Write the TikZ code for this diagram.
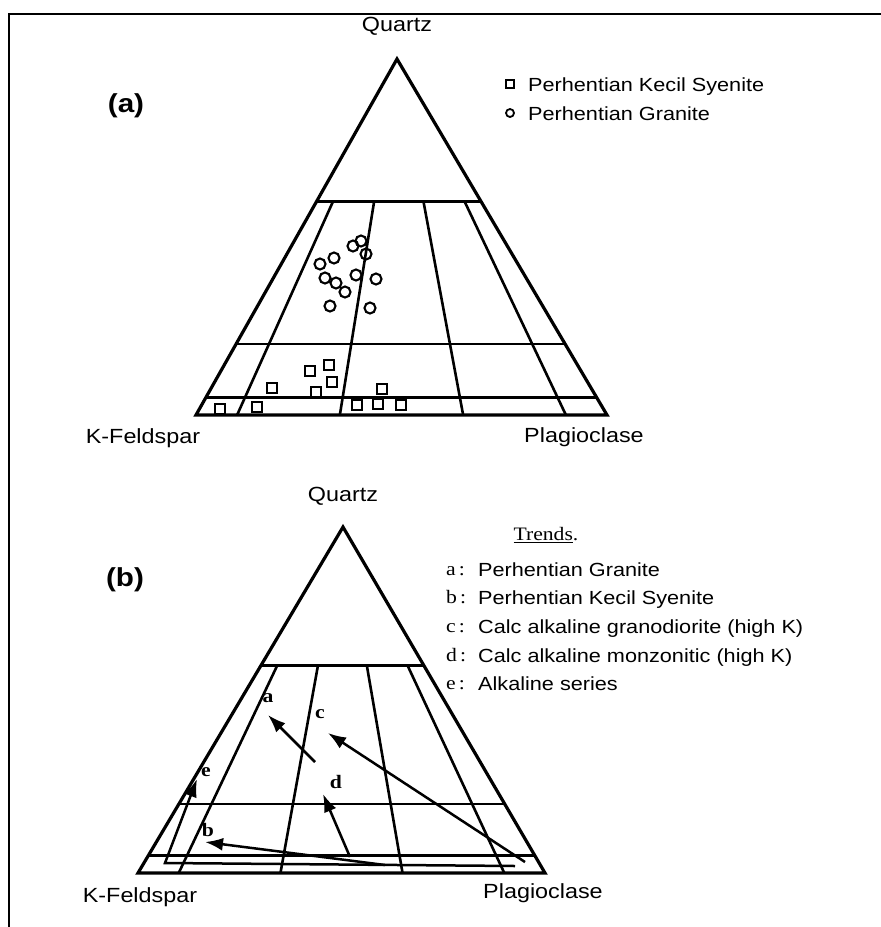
\documentclass[tikz,border=0pt]{standalone}
\usepackage{fontspec}
\setmainfont{Liberation Sans}[FakeStretch=1.14]
\newfontfamily\trendfont{Liberation Serif}[FakeStretch=1.14]
\usetikzlibrary{calc,arrows.meta}

\begin{document}
\begin{tikzpicture}[x=1pt, y=-1pt,
    edge/.style={line width=3.2pt},
    grid/.style={line width=2.6pt},
    sq/.style={draw, line width=2.1pt, minimum size=10pt, inner sep=0pt},
    circ/.style={draw, circle, line width=2.1pt, minimum size=11pt, inner sep=0pt},
    corner/.style={font=\fontsize{20.5}{24}\selectfont},
    lbl/.style={font=\fontsize{19}{23}\selectfont, anchor=base west, inner sep=0pt},
    trend/.style={line width=2.5pt, -{Latex[length=18pt,width=13pt]}},
    tlet/.style={font=\trendfont\fontsize{19}{22}\selectfont},
    tmark/.style={font=\trendfont\bfseries\fontsize{19}{22}\selectfont}]

    \useasboundingbox (0,0) rectangle (881,927);

    % frame
    \path[draw, line width=2.5pt] (9,927) -- (9,14) -- (881,14);

    \coordinate (aK) at (196,415);
    \coordinate (aP) at (607,415);
    \coordinate (aQ) at (397,59);
    \coordinate (bK) at (138,873);
    \coordinate (bP) at (545,873);
    \coordinate (bQ) at (343,527);

    % both QAP triangles
    \foreach \p in {a,b} {
        \path[draw, edge] (\p K) -- (\p P) -- (\p Q) -- cycle;
        \foreach \q in {0.05,0.2,0.6}
            \path[draw, grid] ($(\p K)!\q!(\p Q)$) -- ($(\p P)!\q!(\p Q)$);
        \foreach \r in {0.1,0.35,0.65,0.9}
            \path[draw, grid] ($(\p K)!\r!(\p P)$) -- ($(\p K)!\r!(\p P)!0.6!(\p Q)$);
    }

    \node[corner] (aQz) at (397,26) {Quartz};
    \node[corner] (aKf) at (143,438) {K-Feldspar};
    \node[corner] (aPl) at (584,437) {Plagioclase};
    \node[corner] (bQz) at (343,496) {Quartz};
    \node[corner] (bKf) at (140,897) {K-Feldspar};
    \node[corner] (bPl) at (543,893) {Plagioclase};

    \node[font=\bfseries\fontsize{26}{30}\selectfont] (aTag) at (126,106) {(a)};
    \node[font=\bfseries\fontsize{26}{30}\selectfont] (bTag) at (125,580) {(b)};

    % legend (a)
    \node[sq, minimum size=8pt, line width=1.6pt] (keySq) at (510,84) {};
    \node[lbl] (keySqT) at (528,91) {Perhentian Kecil Syenite};
    \node[circ, minimum size=8pt, line width=1.8pt] (keyCi) at (510,113) {};
    \node[lbl] (keyCiT) at (528,120) {Perhentian Granite};

    % granite
    \foreach \x/\y [count=\i] in {361/241, 353/246, 366/254, 334/258, 320/264,
        356/275, 376/279, 325/278, 336/283, 345/292, 330/306, 370/308}
        \node[circ] (gr\i) at (\x,\y) {};

    % syenite
    \foreach \x/\y [count=\i] in {310/371, 329/365, 332/382, 272/388, 316/392,
        382/389, 220/409, 257/407, 357/405, 378/404, 401/405}
        \node[sq] (sy\i) at (\x,\y) {};

    % legend (b)
    \node[tlet] (trendHead) at (546,535) {\underline{Trends}.};
    \foreach \y/\l/\t in {569/a/{Perhentian Granite}, 597/b/{Perhentian Kecil Syenite},
        626/c/{Calc alkaline granodiorite (high K)}, 655/d/{Calc alkaline monzonitic (high K)},
        683/e/{Alkaline series}} {
        \node[tlet, anchor=base west, inner sep=0pt] (key\l) at (446,\y+6) {\l\,:};
        \node[lbl] (keyT\l) at (478,\y+7) {\t};
    }

    % trends
    \coordinate (aTail) at (315,762);
    \coordinate (aTip) at (268,715);
    \coordinate (cTail) at (525,862);
    \coordinate (cTip) at (328,733);
    \coordinate (dTail) at (350,857);
    \coordinate (dTip) at (323,794);
    \coordinate (bTail) at (385,865);
    \coordinate (bTip) at (205,842);
    \coordinate (eTail) at (515,866);
    \coordinate (eBend) at (165,863);
    \coordinate (eTip) at (197,779);

    \path[draw, trend] (aTail) -- (aTip);
    \path[draw, trend] (cTail) -- (cTip);
    \path[draw, trend] (dTail) -- (dTip);
    \path[draw, trend] (bTail) -- (bTip);
    \path[draw, trend] (eTail) -- (eBend) -- (eTip);

    \node[tmark] (aLab) at (268,698) {a};
    \node[tmark] (cLab) at (320,714) {c};
    \node[tmark] (dLab) at (336,782) {d};
    \node[tmark] (bLab) at (208,830) {b};
    \node[tmark] (eLab) at (206,772) {e};

\end{tikzpicture}
\end{document}
